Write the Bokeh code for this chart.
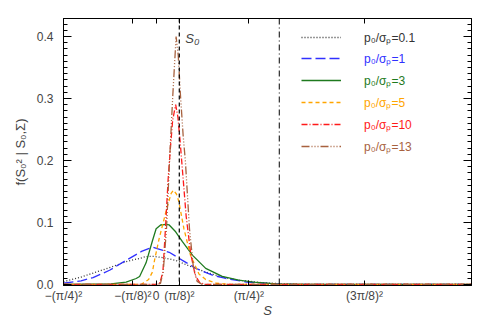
from bokeh.plotting import figure
from bokeh.models import (FixedTicker, LinearAxis, Span, Label, Legend, LegendItem, Range1d,
                          CustomJSTickFormatter)
from bokeh.embed import file_html
from bokeh.resources import INLINE

# ---- data ----
s_01 = [-0.617, -0.5, -0.425, -0.3, -0.2, -0.113, -0.067, -0.02, 0.04, 0.13, 0.22, 0.33, 0.44, 0.55, 0.7, 0.85, 1.0, 2.1]
f_01 = [0.0044, 0.012, 0.018, 0.028, 0.037, 0.042, 0.045, 0.0455, 0.0435, 0.039, 0.030, 0.020, 0.012, 0.007, 0.003, 0.001, 0.0, 0.0]

s_1 = [-0.617, -0.5, -0.42, -0.31, -0.2, -0.093, -0.05, -0.02, 0.007, 0.087, 0.175, 0.265, 0.375, 0.465, 0.6, 0.8, 1.0, 2.1]
f_1 = [0.002, 0.006, 0.011, 0.023, 0.039, 0.054, 0.058, 0.060, 0.058, 0.052, 0.039, 0.026, 0.015, 0.0097, 0.004, 0.001, 0.0, 0.0]

s_3 = [-0.617, -0.3, -0.2, -0.133, -0.11, -0.067, -0.024, 0.0, 0.03, 0.065, 0.087, 0.13, 0.175, 0.243, 0.33, 0.44, 0.55, 0.65, 0.8, 1.0, 2.1]
f_3 = [0.0, 0.001, 0.004, 0.0097, 0.013, 0.035, 0.071, 0.09, 0.096, 0.097, 0.096, 0.085, 0.069, 0.047, 0.026, 0.013, 0.007, 0.004, 0.001, 0.0, 0.0]

s_5 = [-0.617, -0.1, -0.05, -0.025, -0.01, 0.02, 0.065, 0.1, 0.115, 0.135, 0.151, 0.185, 0.229, 0.285, 0.33, 0.4, 0.5, 2.1]
f_5 = [0.0, 0.0, 0.008, 0.02, 0.04, 0.074, 0.117, 0.147, 0.152, 0.146, 0.134, 0.09, 0.047, 0.017, 0.008, 0.002, 0.0, 0.0]

s_10 = [-0.617, 0.0, 0.025, 0.045, 0.062, 0.08, 0.095, 0.11, 0.13, 0.145, 0.16, 0.18, 0.2, 0.23, 0.26, 0.29, 0.33, 2.1]
f_10 = [0.0, 0.0, 0.003, 0.02, 0.09, 0.17, 0.22, 0.265, 0.29, 0.27, 0.23, 0.17, 0.11, 0.05, 0.015, 0.003, 0.0, 0.0]

s_13 = [-0.617, 0.007, 0.029, 0.047, 0.069, 0.089, 0.111, 0.133, 0.147, 0.162, 0.18, 0.195, 0.222, 0.247, 0.273, 0.307, 2.1]
f_13 = [0.0, 0.0, 0.002, 0.02, 0.09, 0.198, 0.305, 0.40, 0.37, 0.305, 0.24, 0.198, 0.09, 0.03, 0.005, 0.0, 0.0]

series_labels = ["p₀/σₚ=0.1", "p₀/σₚ=1", "p₀/σₚ=3", "p₀/σₚ=5", "p₀/σₚ=10", "p₀/σₚ=13"]

x_ticks = [-0.6168502750680849, -0.15421256876702122, 0.0, 0.15421256876702122, 0.6168502750680849, 1.3879131189031911]
x_tick_labels = ["−(π/4)²", "−(π/8)²", "0", "(π/8)²", "(π/4)²", "(3π/8)²"]
y_ticks = [0.0, 0.1, 0.2, 0.3, 0.4]

x_title = "S"
y_title = "f(S₀² | S₀,Σ)"
S0 = 0.15421256876702122
S_limit = 0.82

# ---- styling ----
FONT = "Liberation Sans"
colors = ["#333333", "#3030ff", "#1e7a1e", "#ffa500", "#ff1a1a", "#a8623f"]
dashes = ["1 2", "10 4", "solid", "4 3", "6 2 1 2", "8 2 1 2 1 2 1 2"]

BL, BR, BT, BB = 63, 11, 18, 38
FW, FH = 408, 267
W, H = BL + FW + BR, BT + FH + BB

p = figure(width=W, height=H,
           x_range=Range1d(-0.6168502750680849, 2.1), y_range=Range1d(-0.0016, 0.429),
           output_backend="svg", toolbar_location=None,
           min_border_left=BL, min_border_right=BR, min_border_top=BT, min_border_bottom=BB,
           x_axis_type=None, y_axis_type=None)
p.xgrid.visible = False
p.ygrid.visible = False
p.outline_line_color = "black"
p.outline_line_width = 1
p.background_fill_color = "white"
p.border_fill_color = "white"

xt = FixedTicker(ticks=x_ticks)
yt = FixedTicker(ticks=y_ticks, minor_ticks=[i / 100 for i in range(0, 43)])
blank = CustomJSTickFormatter(code="return ''")

def style_x(ax, labels):
    ax.ticker = xt
    ax.major_tick_in = 5
    ax.major_tick_out = 0
    ax.minor_tick_line_color = None
    ax.axis_line_color = "black"
    ax.major_tick_line_color = "black"
    if labels:
        ax.major_label_overrides = {t: l for t, l in zip(x_ticks, x_tick_labels)}
        ax.major_label_text_font = FONT
        ax.major_label_text_font_size = "12px"
        ax.major_label_standoff = 3
    else:
        ax.formatter = blank
        ax.major_label_standoff = 0

def style_y(ax, labels):
    ax.ticker = yt
    ax.major_tick_in = 8
    ax.major_tick_out = 0
    ax.minor_tick_in = 4
    ax.minor_tick_out = 0
    ax.axis_line_color = "black"
    ax.major_tick_line_color = "black"
    ax.minor_tick_line_color = "black"
    if labels:
        ax.major_label_overrides = {t: f"{t:.1f}" for t in y_ticks}
        ax.major_label_text_font = FONT
        ax.major_label_text_font_size = "12px"
        ax.major_label_standoff = 10
    else:
        ax.formatter = blank
        ax.major_label_standoff = 0

xb = LinearAxis(axis_label=x_title)
style_x(xb, True)
xb.axis_label_text_font = FONT
xb.axis_label_text_font_style = "italic"
xb.axis_label_text_font_size = "13px"
xb.axis_label_standoff = -3
p.add_layout(xb, "below")

xa = LinearAxis()
style_x(xa, False)
p.add_layout(xa, "above")

yl = LinearAxis(axis_label=y_title)
style_y(yl, True)
yl.axis_label_text_font = FONT
yl.axis_label_text_font_style = "normal"
yl.axis_label_text_font_size = "13px"
yl.axis_label_standoff = 6
p.add_layout(yl, "left")

yr = LinearAxis()
style_y(yr, False)
p.add_layout(yr, "right")

# vertical reference lines
p.add_layout(Span(location=S0, dimension="height", line_color="black", line_dash="4 3", line_width=1.2))
p.add_layout(Span(location=S_limit, dimension="height", line_color="black", line_dash="6 3 1 3", line_width=1))
p.add_layout(Label(x=S0, y=FH - 20, y_units="screen", text="S₀", x_offset=6,
                   text_font=FONT, text_font_style="italic", text_font_size="13px",
                   text_baseline="middle"))

xs = [s_01, s_1, s_3, s_5, s_10, s_13]
ys = [f_01, f_1, f_3, f_5, f_10, f_13]
renderers = []
for sx, fy, c, d in zip(xs, ys, colors, dashes):
    r = p.line(sx, fy, line_color=c, line_dash=d, line_width=1.3)
    renderers.append(r)

# legends (one per entry, so each label can take its line's colour)
row_offsets = [19, 40, 62, 84, 106, 128]   # px below the frame top of each row centre
for r, lab, c, dy in zip(renderers, series_labels, colors, row_offsets):
    leg = Legend(items=[LegendItem(label=lab, renderers=[r])],
                 location=(238, FH - dy - 10),
                 padding=0, margin=0, spacing=0,
                 glyph_width=40, glyph_height=20, label_height=20,
                 label_standoff=23,
                 label_text_color=c, label_text_font=FONT, label_text_font_size="12px",
                 border_line_alpha=0, background_fill_alpha=0)
    p.add_layout(leg)

open("out.html", "w").write(file_html(p, INLINE))
